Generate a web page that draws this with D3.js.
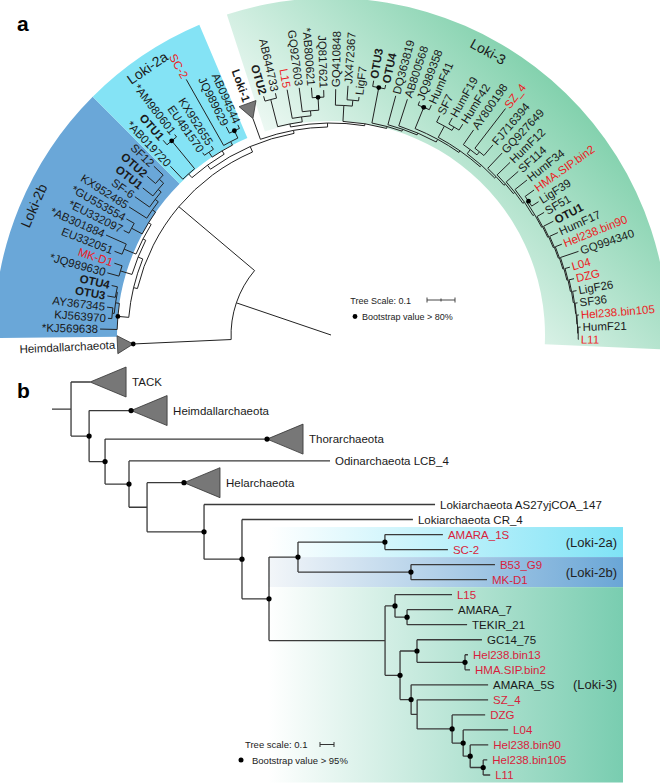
<!DOCTYPE html>
<html><head><meta charset="utf-8">
<script src="https://cdn.jsdelivr.net/npm/d3@7"></script>
<style>
body{margin:0;background:#fff}
svg{display:block}
text{font-family:"Liberation Sans",Arial,sans-serif}
</style>
</head><body>
<svg id="chart" width="660" height="783"></svg>
<script>
// ===================== DATA : panel a (circular tree, 16S) =====================
const loki2bA = "((*KJ569638:0.061,((KJ563970:0.014,AY367345:0.021):0.007,(OTU3:0.029,OTU4:0.021):0.004):0.014)B:0.039,((*JQ989630:0.043,MK-D1:0.029):0.043,((EU332051:0.029,*AB301884:0.079):0.046,((*EU332097:0.021,*GU553554:0.032):0.043,(KX952485:0.075,(SF-6:0.064,(OTU1:0.046,(OTU2:0.039,SF12:0.046):0.021):0.014):0.014):0.014):0.011):0.011):0.018)";
const loki2aA = "((*AB019720:0.064,(OTU1:0.021,*AM980601:0.011)B:0.129):0.018,((EU481570:0.011,KX952655:0.014):0.021,(SC-2:0.271,(JQ989629:0.025,AB094544:0.014)B:0.029):0.014):0.014)";
const loki3HeadA = "((OTU2:0.018,AB644733:0.018):0.100,(L15:0.104,(GQ927603:0.086,(*AB800621:0.036,JQ817621:0.025)B:0.046):0.018):0.018)";
const loki3LadderA = [
  ["(GQ410848:0.057,(JX472367:0.050,LigF7:0.014):0.021):0.057", 0.007],
  ["(OTU3:0.021,OTU4:0.014)B:0.129", 0.007],
  ["DQ363819:0.107", 0.007],
  ["AB800568:0.100", 0.011],
  ["(JQ989358:0.014,HumF41:0.018)B:0.082", 0.007],
  ["(SF7:0.025,(HumF19:0.025,HumF42:0.025):0.014):0.046", 0.007],
  ["(AY800198:0.064,(SZ_4:0.179,FJ716394:0.050):0.014):0.018", 0.007],
  ["GQ927649:0.075", 0.007],
  ["HumF12:0.064", 0.007],
  ["SF114:0.057", 0.007],
  ["HumF34:0.054", 0.007],
  ["(HMA.SIP.bin2:0.039,LigF39:0.029)B:0.007", 0.004],
  ["SF51:0.029", 0.004],
  ["OTU1:0.039", 0.004],
  ["HumF17:0.032", 0.004],
  ["Hel238.bin90:0.025", 0.004],
  ["GQ994340:0.068", 0.004],
  ["L04:0.018", 0.004],
  ["DZG:0.018", 0.004],
  ["LigF26:0.014", 0.002],
  ["SF36:0.009", 0.002],
  ["Hel238.bin105:0.007", 0.002]
];
const loki3EndA = "(HumF21:0.009,L11:0.002)";
const redTipsA = ["MK-D1","SC-2","L15","SZ_4","HMA.SIP.bin2","Hel238.bin90","L04","DZG","Hel238.bin105","L11"];
const boldTipsA = ["OTU1","OTU2","OTU3","OTU4","Loki-1"];
const dotTipsA = ["Heimdallarchaeota"];
const cladeLabelsA = ["Loki-2b","Loki-2a","Loki-3"];
const cladeAnglesA = [[179.5,225],[225,247],[252,362.5]];
const cladeLabelAngleA = [203.5,235.5,299];

// ===================== DATA : panel b (rectangular tree) =====================
const loki2B = "((AMARA_1S:0.414,SC-2:0.450)B:0.621,(B53_G9:0.600,MK-D1:0.543)B:0.807)B";
const loki3B = "((L15:0.407,(AMARA_7:0.329,TEKIR_21:0.429)B:0.086)B:0.071,((GC14_75:0.464,(Hel238.bin13:0.021,HMA.SIP.bin2:0.036)B:0.343)B:0.121,(AMARA_5S:0.550,(SZ_4:0.507,(DZG:0.236,(L04:0.321,(Hel238.bin90:0.129,(Hel238.bin105:0.029,L11:0.050)B:0.093)B:0.050)B:0.079)B:0.250):0.043)B:0.079)B:0.107)";
const backboneB = ["(^TACK:0.136,(^Heimdallarchaeota:0.300,(^Thorarchaeota:1.157,(Odinarchaeota LCB_4:1.436,(^Helarchaeota:0.264,(Lokiarchaeota AS27yjCOA_147:1.650,(Lokiarchaeota CR_4:1.221,(",
                   ":0.207,", ":0.829)B:0.193)B:0.271)B:0.407):0.129)B:0.171)B:0.114)B:0.129):0.136;"];
const redTipsB = ["AMARA_1S","SC-2","B53_G9","MK-D1","L15","Hel238.bin13","HMA.SIP.bin2","SZ_4","DZG","L04","Hel238.bin90","Hel238.bin105","L11"];
const dotTipsB = ["Heimdallarchaeota","Thorarchaeota","Helarchaeota"];
const bandLabelsB = ["(Loki-2a)","(Loki-2b)","(Loki-3)"];
const bandFirstB = ["AMARA_1S","B53_G9","L15"];
const bandLastB = ["SC-2","MK-D1","L11"];

// ===================== helpers =====================
function parseNewick(s) {
  let i = 0;
  function node() {
    const n = {};
    if (s[i] === "(") {
      i++; n.children = [];
      while (true) {
        n.children.push(node());
        if (s[i] === ",") { i++; continue; }
        if (s[i] === ")") { i++; break; }
        throw new Error("newick error at " + i);
      }
    }
    let name = "";
    while (i < s.length && !"(),:;".includes(s[i])) name += s[i++];
    let len = 0;
    if (s[i] === ":") { i++; let num = ""; while (i < s.length && !"(),;".includes(s[i])) num += s[i++]; len = parseFloat(num); }
    name = name.trim();
    if (n.children) n.boot = name === "B";
    else { n.collapsed = name.startsWith("^"); n.name = name.replace(/^\^/, ""); }
    n.len = len;
    return n;
  }
  return node();
}
function ladder(steps, end) {
  let s = end;
  for (let k = steps.length - 1; k >= 0; k--) s = "(" + steps[k][0] + "," + s + ":" + steps[k][1] + ")";
  return s;
}
const sep = (a, b) => 1 + (a.data.collapsed ? 0.45 : 0) + (b.data.collapsed ? 0.45 : 0);

const svg = d3.select("#chart");
const defs = svg.append("defs");

// ===================== PANEL A =====================
const loki3A = "(" + loki3HeadA + ":0.011," + ladder(loki3LadderA, loki3EndA) + ":0.007)";
const treeA = "((^Heimdallarchaeota:0.350,(" + loki2bA + ":0.014,(" + loki2aA + ":0.018,(^Loki-1:0.079," + loki3A + ":0.014):0.011):0.021):0.354):0.357);";
const rootA = d3.hierarchy(parseNewick(treeA));
d3.cluster().separation(sep)(rootA);
rootA.eachBefore(d => { d.dist = (d.parent ? d.parent.dist : 0) + d.data.len; });
const leavesA = rootA.leaves();
const angA = d3.scaleLinear().domain(d3.extent(leavesA, d => d.x)).range([177.4, 361]);
const rA = d3.scaleLinear().domain([0, 1]).range([0, 280]);
const cx = 331, cy = 335;
const rad = a => a * Math.PI / 180;
const pol = (a, r) => [cx + r * Math.cos(rad(a)), cy + r * Math.sin(rad(a))];
rootA.each(d => { d.ang = angA(d.x); });

// clade wedges
const wedgeStops = [
  {id: "g2b", c0: "#f7fafd", c1: "#6aa7d8", x1: 235, y1: 230, x2: 5, y2: 290},
  {id: "g2a", c0: "#f3fcfe", c1: "#84e3f5", x1: 250, y1: 190, x2: 150, y2: 35},
  {id: "g3", c0: "#ffffff", c1: "#5cc394", x1: 380, y1: 300, x2: 640, y2: 40}
];
wedgeStops.forEach(g => {
  const lg = defs.append("linearGradient").attr("id", g.id).attr("gradientUnits", "userSpaceOnUse")
    .attr("x1", g.x1).attr("y1", g.y1).attr("x2", g.x2).attr("y2", g.y2);
  lg.append("stop").attr("offset", 0).attr("stop-color", g.c0);
  lg.append("stop").attr("offset", 1).attr("stop-color", g.c1);
});
const wedgeArc = d3.arc().innerRadius(214).outerRadius(337);
const gA = svg.append("g");
cladeAnglesA.forEach((a, k) => {
  gA.append("path").attr("transform", `translate(${cx},${cy})`)
    .attr("d", wedgeArc({startAngle: rad(a[0] + 90), endAngle: rad(a[1] + 90)}))
    .attr("fill", `url(#${wedgeStops[k].id})`);
});
cladeLabelsA.forEach((t, k) => {
  const a = cladeLabelAngleA[k];
  const [x, y] = pol(a, 324);
  gA.append("text").attr("transform", `translate(${x},${y}) rotate(${a + 90})`)
    .attr("text-anchor", "middle").attr("dy", "0.35em").attr("font-size", 14).attr("fill", "#1a1a1a").text(t);
});

// branches
const pA = d3.path();
rootA.descendants().forEach(d => {
  const r = rA(d.dist);
  if (d.parent) {
    const rp = rA(d.parent.dist);
    const p0 = pol(d.ang, rp), p1 = pol(d.ang, r);
    pA.moveTo(p0[0], p0[1]); pA.lineTo(p1[0], p1[1]);
  }
  if (d.children && d.children.length > 1) {
    const a0 = d3.min(d.children, c => c.ang), a1 = d3.max(d.children, c => c.ang);
    const s = pol(a0, r);
    pA.moveTo(s[0], s[1]); pA.arc(cx, cy, r, rad(a0), rad(a1));
  }
});
gA.append("path").attr("d", pA.toString()).attr("fill", "none").attr("stroke", "#222").attr("stroke-width", 1);

const triLenA = 16, triHalfA = 9;
leavesA.filter(d => d.data.collapsed).forEach(d => {
  const r = rA(d.dist), rb = r + triLenA, da = (triHalfA / rb) * 180 / Math.PI;
  const pts = [pol(d.ang, r), pol(d.ang - da, rb), pol(d.ang + da, rb)];
  gA.append("polygon").attr("points", pts.map(p => p.join(",")).join(" "))
    .attr("fill", "#777").attr("stroke", "#333").attr("stroke-width", 0.8);
});
rootA.descendants().filter(d => d.data.boot || dotTipsA.includes(d.data.name)).forEach(d => {
  const p = pol(d.ang, rA(d.dist));
  gA.append("circle").attr("cx", p[0]).attr("cy", p[1]).attr("r", 2.4).attr("fill", "#000");
});
leavesA.forEach(d => {
  const r = rA(d.dist) + (d.data.collapsed ? triLenA : 0) + 2;
  const flip = d.ang > 90 && d.ang < 270;
  gA.append("text")
    .attr("transform", `translate(${cx},${cy}) rotate(${d.ang}) translate(${r},0)` + (flip ? " rotate(180)" : ""))
    .attr("text-anchor", flip ? "end" : "start").attr("dy", "0.35em")
    .attr("font-size", 11.5)
    .attr("font-weight", boldTipsA.includes(d.data.name) ? "bold" : "normal")
    .attr("fill", redTipsA.includes(d.data.name) ? "#ec1c24" : "#1a1a1a")
    .text(d.data.name);
});
// legend a
const barA0 = 427;
const lgA = svg.append("g");
lgA.append("text").attr("x", 411).attr("y", 304).attr("text-anchor", "end").attr("font-size", 9).attr("fill", "#222").text("Tree Scale: 0.1");
const bLen = rA(0.1) - rA(0);
lgA.append("path").attr("d", `M${barA0},300H${barA0 + bLen}M${barA0},297.5V302.5M${barA0 + bLen / 2},298.5V301.5M${barA0 + bLen},297.5V302.5`)
  .attr("stroke", "#333").attr("stroke-width", 0.9).attr("fill", "none");
lgA.append("circle").attr("cx", 355).attr("cy", 316.5).attr("r", 2.4).attr("fill", "#000");
lgA.append("text").attr("x", 362).attr("y", 320).attr("font-size", 9).attr("fill", "#222").text("Bootstrap value > 80%");

// ===================== PANEL B =====================
const treeB = backboneB[0] + loki2B + backboneB[1] + loki3B + backboneB[2];
const rootB = d3.hierarchy(parseNewick(treeB));
d3.cluster().separation(sep)(rootB);
rootB.eachBefore(d => { d.dist = (d.parent ? d.parent.dist : 0) + d.data.len; });
const leavesB = rootB.leaves();
const yB = d3.scaleLinear().domain(d3.extent(leavesB, d => d.x)).range([382, 775]);
const xB = d3.scaleLinear().domain([0, 1]).range([52, 192]);
const unitB = Math.abs(yB(leavesB[leavesB.length - 1].x) - yB(leavesB[leavesB.length - 2].x));
const gB = svg.append("g");
const byName = n => leavesB.find(d => d.data.name === n);

const bandCols = [["#ffffff", "#7fe3f6"], ["#f3f6f9", "#6aa6d6"], ["#ffffff", "#79cdb0"]];
bandLabelsB.forEach((lab, k) => {
  const gid = "bb" + k;
  const lg = defs.append("linearGradient").attr("id", gid).attr("x1", 0).attr("x2", 1).attr("y1", 0).attr("y2", 0);
  lg.append("stop").attr("offset", 0).attr("stop-color", bandCols[k][0]);
  lg.append("stop").attr("offset", 1).attr("stop-color", bandCols[k][1]);
  const y0 = yB(byName(bandFirstB[k]).x) - unitB / 2, y1 = yB(byName(bandLastB[k]).x) + unitB / 2;
  gB.append("rect").attr("x", 268).attr("y", y0).attr("width", 623 - 268).attr("height", y1 - y0).attr("fill", `url(#${gid})`);
  gB.append("text").attr("x", 617).attr("y", (y0 + y1) / 2).attr("dy", "0.35em").attr("text-anchor", "end")
    .attr("font-size", 13).attr("fill", "#222").text(lab);
});

const pB = d3.path();
pB.moveTo(xB(0), yB(rootB.x)); pB.lineTo(xB(rootB.dist), yB(rootB.x));
rootB.descendants().forEach(d => {
  const x = xB(d.dist), y = yB(d.x);
  if (d.parent) { pB.moveTo(xB(d.parent.dist), y); pB.lineTo(x, y); }
  if (d.children) {
    const ys = d.children.map(c => yB(c.x));
    pB.moveTo(x, d3.min(ys)); pB.lineTo(x, d3.max(ys));
  }
});
gB.append("path").attr("d", pB.toString()).attr("fill", "none").attr("stroke", "#3a3a3a").attr("stroke-width", 1.3);

const triLenB = 36, triHalfB = 15;
leavesB.filter(d => d.data.collapsed).forEach(d => {
  const x = xB(d.dist), y = yB(d.x);
  gB.append("polygon").attr("points", `${x},${y} ${x + triLenB},${y - triHalfB} ${x + triLenB},${y + triHalfB}`)
    .attr("fill", "#777").attr("stroke", "#333").attr("stroke-width", 0.8);
});
rootB.descendants().filter(d => d.data.boot || dotTipsB.includes(d.data.name)).forEach(d => {
  gB.append("circle").attr("cx", xB(d.dist)).attr("cy", yB(d.x)).attr("r", 2.6).attr("fill", "#000");
});
leavesB.forEach(d => {
  const x = xB(d.dist) + (d.data.collapsed ? triLenB + 6 : 5);
  gB.append("text").attr("x", x).attr("y", yB(d.x)).attr("dy", "0.35em").attr("font-size", 11.5)
    .attr("fill", redTipsB.includes(d.data.name) ? "#d81e3c" : "#1a1a1a").text(d.data.name);
});
const lgB = svg.append("g");
lgB.append("text").attr("x", 245).attr("y", 748).attr("font-size", 9.5).attr("fill", "#222").text("Tree scale: 0.1");
const bLenB = xB(0.1) - xB(0);
lgB.append("path").attr("d", `M320,744.5H${320 + bLenB}M320,742V747M${320 + bLenB},742V747`)
  .attr("stroke", "#333").attr("stroke-width", 1).attr("fill", "none");
lgB.append("circle").attr("cx", 241).attr("cy", 760).attr("r", 2.5).attr("fill", "#000");
lgB.append("text").attr("x", 252).attr("y", 763.5).attr("font-size", 9.5).attr("fill", "#222").text("Bootstrap value > 95%");

svg.append("text").attr("x", 17).attr("y", 31).attr("font-size", 21).attr("font-weight", "bold").text("a");
svg.append("text").attr("x", 17).attr("y", 398).attr("font-size", 21).attr("font-weight", "bold").text("b");
</script>
</body></html>
